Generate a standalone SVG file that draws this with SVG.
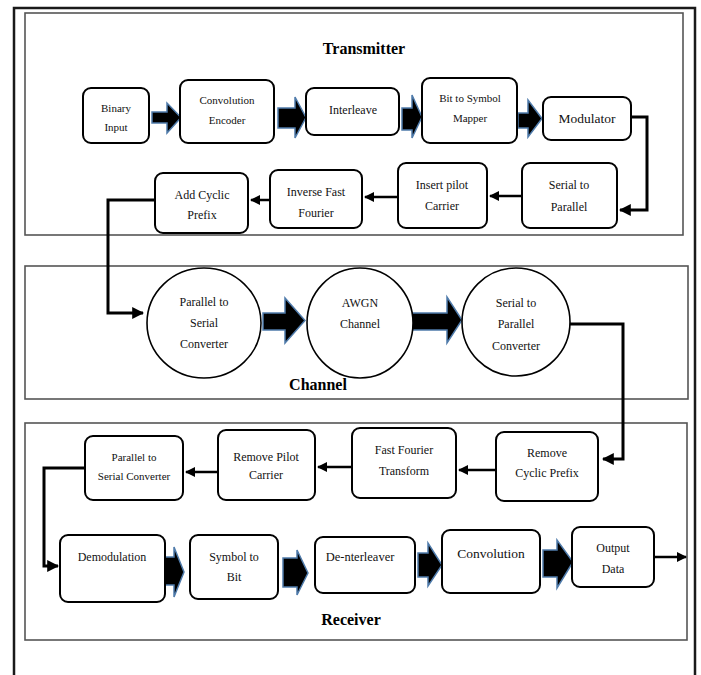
<svg xmlns="http://www.w3.org/2000/svg" width="701" height="675" viewBox="0 0 701 675">
<defs>
<style>
.frame{fill:none;stroke:#1a1a1a;stroke-width:2.5}
.sec{fill:#fff;stroke:#555;stroke-width:1.6}
.box{fill:#fff;stroke:#000;stroke-width:2}
.circ{fill:#fff;stroke:#000;stroke-width:1.6}
.t{font-family:"Liberation Serif","Times New Roman",serif;font-size:12px;fill:#111;text-anchor:middle}
.s{font-size:11px}
.title{font-family:"Liberation Serif","Times New Roman",serif;font-weight:bold;font-size:16px;fill:#000;text-anchor:middle}
.blk{fill:#000;stroke:#4f7bab;stroke-width:1.5;stroke-linejoin:miter}
.ln{fill:none;stroke:#000;stroke-width:3}
</style>
<marker id="ah" viewBox="0 0 10 10" refX="9" refY="5" markerWidth="4" markerHeight="4" orient="auto" markerUnits="strokeWidth">
<path d="M0,0 L10,5 L0,10 z" fill="#000"/>
</marker>
</defs>
<rect width="701" height="675" fill="#fff"/>
<path class="frame" d="M14,675 V8 H695 V675"/>

<rect class="sec" x="25" y="13" width="658" height="222"/>
<rect class="sec" x="25" y="266" width="663" height="133"/>
<rect class="sec" x="25" y="423" width="662" height="217"/>

<text class="title" x="364" y="54">Transmitter</text>
<text class="title" x="318" y="390">Channel</text>
<text class="title" x="351" y="625">Receiver</text>

<g id="connectors">
<path class="blk" d="M152,112 H167 V103 L181,117.5 L167,133 V123 H152 Z"/>
<path class="blk" d="M278,108 H295 V97 L306,117.5 L295,138 V128 H278 Z"/>
<path class="blk" d="M402,108 H412 V95 L422,117 L412,138 V130 H402 Z"/>
<path class="blk" d="M518,113 H528 V100 L542,118.5 L528,137 V128 H518 Z"/>
<path class="blk" d="M263,313 H285 V298 L305,320.5 L285,343 V330 H263 Z"/>
<path class="blk" d="M412,313 H447 V297 L462,320 L447,343 V330 H412 Z"/>
<path class="blk" d="M165,557 H174 V547 L184,572 L174,597 V585 H165 Z"/>
<path class="blk" d="M283,558 H297 V550 L308,573 L297,595 V587 H283 Z"/>
<path class="blk" d="M418,553 H428 V543 L442,565 L428,586 V577 H418 Z"/>
<path class="blk" d="M543,550 H557 V540 L573,562 L557,588 V577 H543 Z"/>

<path class="ln" d="M631,117 H647 V210 H620" marker-end="url(#ah)"/>
<path class="ln" d="M522,196 H490" marker-end="url(#ah)" style="stroke-width:2.5"/>
<path class="ln" d="M398,197 H365" marker-end="url(#ah)" style="stroke-width:2.5"/>
<path class="ln" d="M270,200 H251" marker-end="url(#ah)" style="stroke-width:2.5"/>
<path class="ln" d="M155,200 H108 V313 H143" marker-end="url(#ah)"/>
<path class="ln" d="M570,324 H623 V459 H603" marker-end="url(#ah)"/>
<path class="ln" d="M496,470 H459" marker-end="url(#ah)" style="stroke-width:2.5"/>
<path class="ln" d="M352,467 H318" marker-end="url(#ah)" style="stroke-width:2.5"/>
<path class="ln" d="M218,472 H186" marker-end="url(#ah)" style="stroke-width:2.5"/>
<path class="ln" d="M85,468 H44 V566 H58" marker-end="url(#ah)"/>
<path class="ln" d="M654,557 H686" marker-end="url(#ah)" style="stroke-width:2.5"/>
</g>

<g id="binary-input"><rect class="box" x="83" y="88" width="66" height="55" rx="8"/><text class="t s" x="116" y="112">Binary</text><text class="t s" x="116" y="131">Input</text></g>
<g id="conv-encoder"><rect class="box" x="180" y="80" width="94" height="63" rx="8"/><text class="t s" x="227" y="104">Convolution</text><text class="t s" x="227" y="124">Encoder</text></g>
<g id="interleave"><rect class="box" x="306" y="88" width="93" height="47" rx="8"/><text class="t" x="353" y="114">Interleave</text></g>
<g id="bit-to-symbol"><rect class="box" x="422" y="78" width="95" height="65" rx="8"/><text class="t s" x="470" y="102">Bit to Symbol</text><text class="t s" x="470" y="122">Mapper</text></g>
<g id="modulator"><rect class="box" x="543" y="97" width="88" height="43" rx="8"/><text class="t" x="587" y="123" style="font-size:13.5px">Modulator</text></g>
<g id="serial-to-parallel"><rect class="box" x="522" y="163" width="95" height="65" rx="8"/><text class="t" x="569" y="189">Serial to</text><text class="t" x="569" y="211">Parallel</text></g>
<g id="insert-pilot"><rect class="box" x="398" y="163" width="89" height="65" rx="8"/><text class="t" x="442" y="189">Insert pilot</text><text class="t" x="442" y="210">Carrier</text></g>
<g id="ifft"><rect class="box" x="270" y="170" width="92" height="58" rx="8"/><text class="t" x="316" y="196">Inverse Fast</text><text class="t" x="316" y="217">Fourier</text></g>
<g id="add-cp"><rect class="box" x="155" y="173" width="93" height="60" rx="8"/><text class="t" x="202" y="199">Add Cyclic</text><text class="t" x="202" y="219">Prefix</text></g>

<g id="p2s-converter"><ellipse class="circ" cx="204" cy="323" rx="57" ry="55"/><text class="t" x="204" y="306">Parallel to</text><text class="t" x="204" y="327">Serial</text><text class="t" x="204" y="348">Converter</text></g>
<g id="awgn"><ellipse class="circ" cx="360" cy="323" rx="53" ry="55"/><text class="t" x="360" y="307">AWGN</text><text class="t" x="360" y="328">Channel</text></g>
<g id="s2p-converter"><ellipse class="circ" cx="516" cy="322" rx="54" ry="54"/><text class="t" x="516" y="307">Serial to</text><text class="t" x="516" y="328">Parallel</text><text class="t" x="516" y="350">Converter</text></g>

<g id="rx-p2s"><rect class="box" x="85" y="436" width="98" height="64" rx="8"/><text class="t s" x="134" y="461">Parallel to</text><text class="t s" x="134" y="480">Serial Converter</text></g>
<g id="remove-pilot"><rect class="box" x="218" y="430" width="97" height="70" rx="8"/><text class="t" x="266" y="461">Remove Pilot</text><text class="t" x="266" y="479">Carrier</text></g>
<g id="fft"><rect class="box" x="352" y="428" width="104" height="70" rx="8"/><text class="t" x="404" y="454">Fast Fourier</text><text class="t" x="404" y="475">Transform</text></g>
<g id="remove-cp"><rect class="box" x="496" y="432" width="102" height="69" rx="8"/><text class="t" x="547" y="457">Remove</text><text class="t" x="547" y="477">Cyclic Prefix</text></g>
<g id="demodulation"><rect class="box" x="60" y="535" width="105" height="67" rx="8"/><text class="t" x="112" y="561">Demodulation</text></g>
<g id="symbol-to-bit"><rect class="box" x="190" y="535" width="88" height="64" rx="8"/><text class="t" x="234" y="561">Symbol to</text><text class="t" x="234" y="581">Bit</text></g>
<g id="deinterleaver"><rect class="box" x="315" y="537" width="100" height="56" rx="8"/><text class="t" x="360" y="561" style="font-size:12.5px">De-nterleaver</text></g>
<g id="convolution"><rect class="box" x="442" y="530" width="98" height="63" rx="8"/><text class="t" x="491" y="558" style="font-size:13.5px">Convolution</text></g>
<g id="output-data"><rect class="box" x="572" y="527" width="82" height="60" rx="8"/><text class="t" x="613" y="552">Output</text><text class="t" x="613" y="573">Data</text></g>
</svg>
